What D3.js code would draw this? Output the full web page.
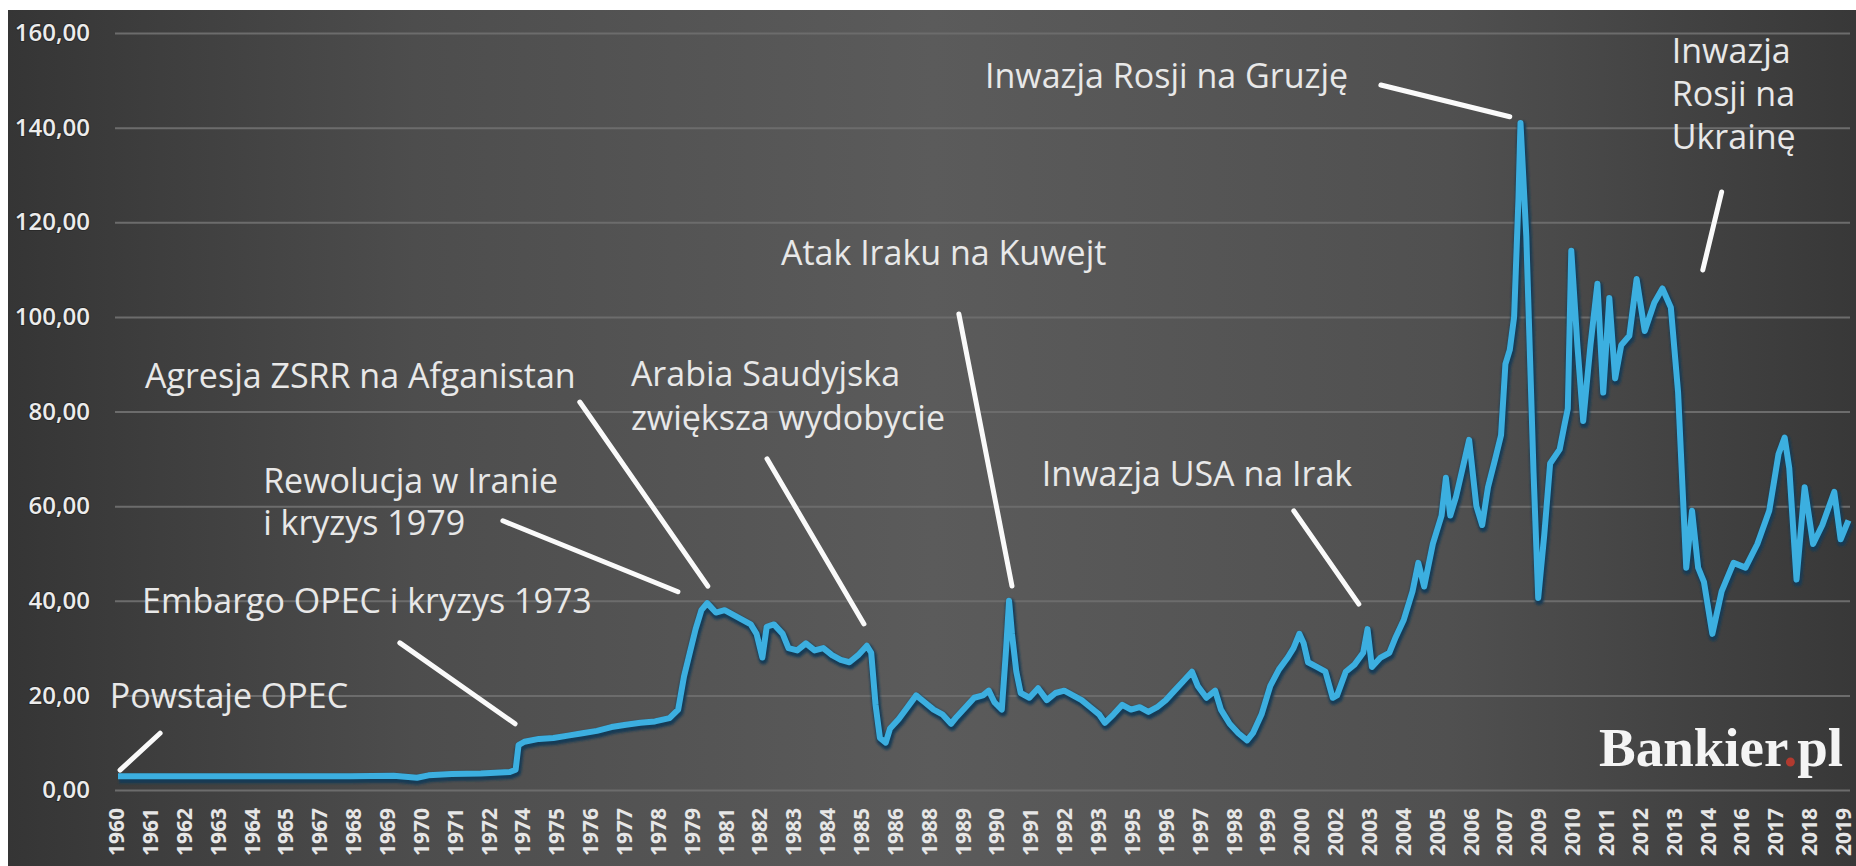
<!DOCTYPE html>
<html>
<head>
<meta charset="utf-8">
<script src="https://cdn.jsdelivr.net/npm/d3@7"></script>
<style>
  body { margin: 0; background: #fff; }
  svg { display: block; }
  text { font-family: "Open Sans", sans-serif; }
</style>
</head>
<body>
<svg id="chart" width="1856" height="866"></svg>
<script>
const WIDTH = 1856;
const HEIGHT = 866;
const PLOT = { left: 118, right: 1845, top: 33, bottom: 790, gridLeft: 115, gridRight: 1850 };

// y axis ticks
const yTicks = [0, 20, 40, 60, 80, 100, 120, 140, 160];

// x axis labels, one every 14 months starting Jan 1960
const xTickLabels = ["1960","1961","1962","1963","1964","1965","1967","1968","1969","1970","1971","1972",
  "1974","1975","1976","1977","1978","1979","1981","1982","1983","1984","1985","1986",
  "1988","1989","1990","1991","1992","1993","1995","1996","1997","1998","1999","2000",
  "2002","2003","2004","2005","2006","2007","2009","2010","2011","2012","2013","2014",
  "2016","2017","2018","2019"];
const LABEL_STEP_MONTHS = 14;

// oil price, USD per barrel
const dates = [1960.0, 1962, 1964, 1966, 1968, 1969.5, 1970.3, 1970.7, 1971.5, 1972.5, 1973.5, 1973.7, 1973.8,
  1974.0, 1974.5, 1975.0, 1975.5, 1976.0, 1976.5, 1977.0, 1977.5, 1978.0, 1978.5, 1979.0, 1979.3, 1979.5, 1979.7,
  1979.9, 1980.1, 1980.3, 1980.6, 1980.9, 1981.2, 1981.5, 1981.8, 1982.0, 1982.2, 1982.35, 1982.6, 1982.9, 1983.1,
  1983.4, 1983.7, 1984.0, 1984.3, 1984.6, 1984.9, 1985.2, 1985.5, 1985.8, 1985.95, 1986.1, 1986.25, 1986.45, 1986.6,
  1986.9, 1987.2, 1987.5, 1987.8, 1988.1, 1988.4, 1988.7, 1988.9, 1989.2, 1989.5, 1989.8, 1990.0, 1990.2, 1990.45,
  1990.6, 1990.7, 1990.8, 1990.95, 1991.1, 1991.4, 1991.7, 1992.0, 1992.3, 1992.6, 1992.9, 1993.2, 1993.5, 1993.8,
  1994.0, 1994.3, 1994.6, 1994.9, 1995.2, 1995.5, 1995.8, 1996.1, 1996.4, 1996.7, 1997.0, 1997.2, 1997.5, 1997.8,
  1998.0, 1998.3, 1998.6, 1998.9, 1999.1, 1999.4, 1999.7, 2000.0, 2000.3, 2000.5, 2000.7, 2000.85, 2001.0, 2001.3,
  2001.6, 2001.85, 2002.0, 2002.3, 2002.6, 2002.9, 2003.05, 2003.2, 2003.5, 2003.8, 2004.0, 2004.3, 2004.6, 2004.8,
  2005.0, 2005.3, 2005.6, 2005.75, 2005.9, 2006.1, 2006.4, 2006.55, 2006.8, 2007.0, 2007.2, 2007.45, 2007.65, 2007.8,
  2007.95, 2008.1, 2008.25, 2008.32, 2008.52, 2008.77, 2008.93, 2009.14, 2009.34, 2009.67, 2009.83, 2009.95,
  2010.07, 2010.28, 2010.48, 2010.73, 2010.97, 2011.17, 2011.38, 2011.58, 2011.79, 2012.07, 2012.32, 2012.6,
  2012.93, 2013.21, 2013.5, 2013.75, 2014.03, 2014.23, 2014.44, 2014.64, 2014.93, 2015.25, 2015.66, 2016.07,
  2016.48, 2016.89, 2017.21, 2017.42, 2017.58, 2017.83, 2018.11, 2018.4, 2018.72, 2019.13, 2019.35, 2019.62];
const prices = [2.9, 2.9, 2.9, 2.9, 2.9, 3.0, 2.6, 3.1, 3.4, 3.5, 3.8, 4.3, 9.5,
  10.2, 10.8, 11.0, 11.5, 12.0, 12.5, 13.3, 13.8, 14.2, 14.5, 15.2, 17, 24, 29,
  34, 38, 39.5, 37.5, 38, 37, 36, 35, 33, 28, 34.5, 35, 33, 30,
  29.5, 31, 29.5, 30, 28.5, 27.5, 27, 28.5, 30.5, 29, 18, 11, 10, 13,
  15, 17.5, 20, 18.5, 17, 16, 14, 15.5, 17.5, 19.5, 20, 21, 18.5, 17,
  30, 40, 33, 25, 20.5, 19.5, 21.5, 19, 20.5, 21, 20, 19, 17.5, 16,
  14.2, 16, 18, 17, 17.5, 16.5, 17.5, 19, 21, 23, 25, 22, 19.5, 21,
  17, 14, 12, 10.5, 12, 16, 22, 25.5, 28, 30, 33, 31, 27, 26,
  25, 19.5, 20, 25, 26.5, 29, 34, 26, 28, 29, 32, 36, 42, 48,
  43, 52, 58, 66, 58, 62, 70, 74, 60, 56, 64, 70, 75, 90,
  93, 100, 125, 141, 117, 67, 40.6, 54, 69, 72, 77, 80.6,
  114, 94, 78, 94, 107, 84, 104, 87, 94, 96, 108, 97,
  103, 106, 102, 84, 47, 59, 47, 44, 33, 42, 48, 47,
  52, 59, 71, 74.5, 68, 44.5, 64, 52, 56, 63, 53, 57];

// event captions and where their pointer lines go, in (year, price)
const eventTexts = [
  ["Powstaje OPEC"],
  ["Embargo OPEC i kryzys 1973"],
  ["Rewolucja w Iranie", "i kryzys 1979"],
  ["Agresja ZSRR na Afganistan"],
  ["Arabia Saudyjska", "zwiększa wydobycie"],
  ["Atak Iraku na Kuwejt"],
  ["Inwazja USA na Irak"],
  ["Inwazja Rosji na Gruzję"],
  ["Inwazja", "Rosji na", "Ukrainę"]
];
const eventTextAt = [[1959.72, 17.3], [1960.83, 37.4], [1965.0, 62.8], [1960.93, 85.0], [1977.67, 85.4],
  [1982.84, 111.0], [1991.83, 64.3], [1989.87, 148.4], [2013.53, 153.7]];
const eventLineFrom = [[1960.07, 4.2], [1969.71, 31.1], [1973.26, 56.9], [1975.91, 82.0], [1982.36, 70.0],
  [1988.97, 100.6], [2000.51, 59.0], [2003.51, 149.0], [2015.25, 126.4]];
const eventLineTo = [[1961.45, 12.0], [1973.68, 14.0], [1979.29, 41.9], [1980.32, 43.1], [1985.70, 35.1],
  [1990.80, 43.1], [2002.75, 39.3], [2007.95, 142.3], [2014.60, 109.9]];
const eventLineHeights = [0, 0, 42, 0, 44, 0, 0, 0, 43];

const svg = d3.select("#chart");
const defs = svg.append("defs");
const bg = defs.append("linearGradient").attr("id", "bg");
[["0%", "#353535"], ["22%", "#4d4d4d"], ["50%", "#5b5b5b"], ["78%", "#505050"], ["100%", "#383838"]]
  .forEach(s => bg.append("stop").attr("offset", s[0]).attr("stop-color", s[1]));
defs.append("filter").attr("id", "soft").append("feGaussianBlur").attr("stdDeviation", 1.2);

svg.append("rect").attr("width", WIDTH).attr("height", HEIGHT).attr("fill", "#fff");
svg.append("rect").attr("x", 8).attr("y", 10).attr("width", WIDTH - 8).attr("height", HEIGHT - 10).attr("fill", "url(#bg)");

const x = d3.scaleLinear().domain([1960, 2019.5]).range([PLOT.left, PLOT.right]);
const y = d3.scaleLinear().domain([0, 160]).range([PLOT.bottom, PLOT.top]);

// gridlines
svg.append("g")
  .attr("transform", `translate(${PLOT.gridLeft},0)`)
  .call(d3.axisLeft(y).tickValues(yTicks).tickSize(-(PLOT.gridRight - PLOT.gridLeft)).tickFormat(""))
  .call(g => g.select(".domain").remove())
  .call(g => g.selectAll("line").attr("stroke", "#6c6c6c").attr("stroke-width", 2));

const pl = d3.formatLocale({ decimal: ",", thousands: " ", grouping: [3], currency: ["", ""] });

svg.append("g")
  .attr("transform", `translate(${PLOT.gridLeft},0)`)
  .call(d3.axisLeft(y).tickValues(yTicks).tickSize(0).tickPadding(25).tickFormat(pl.format(".2f")))
  .call(g => g.select(".domain").remove())
  .call(g => g.selectAll("text")
    .attr("fill", "#ececec").attr("font-size", 24).attr("font-weight", 600)
    .attr("stroke", "#2a2a2a").attr("stroke-width", 2).attr("paint-order", "stroke")
    .style("font-family", "'Open Sans', sans-serif"));

const tickDates = xTickLabels.map((d, i) => 1960 + i * LABEL_STEP_MONTHS / 12);
svg.append("g")
  .attr("transform", `translate(0,${PLOT.bottom})`)
  .call(d3.axisBottom(x).tickValues(tickDates).tickSize(0).tickFormat((d, i) => xTickLabels[i]))
  .call(g => g.select(".domain").remove())
  .call(g => g.selectAll("text")
    .attr("transform", "rotate(-90)").attr("text-anchor", "end")
    .attr("x", -18).attr("y", -2).attr("dy", "0.36em")
    .attr("fill", "#e6e6e6").attr("font-size", 21).attr("font-weight", 700)
    .style("font-family", "'Open Sans', sans-serif"));

// price line
const series = dates.map((d, i) => ({ date: d, price: prices[i] }));
const line = d3.line().x(d => x(d.date)).y(d => y(d.price));

svg.append("path").datum(series)
  .attr("d", line).attr("fill", "none")
  .attr("stroke", "#163a55").attr("stroke-width", 9).attr("stroke-linejoin", "round")
  .attr("transform", "translate(1,2.5)").attr("filter", "url(#soft)");
svg.append("path").datum(series)
  .attr("d", line).attr("fill", "none")
  .attr("stroke", "#3cafe0").attr("stroke-width", 6).attr("stroke-linejoin", "round");

// annotations
const notes = svg.append("g");
eventTexts.forEach((lines, i) => {
  notes.append("line")
    .attr("x1", x(eventLineFrom[i][0])).attr("y1", y(eventLineFrom[i][1]))
    .attr("x2", x(eventLineTo[i][0])).attr("y2", y(eventLineTo[i][1]))
    .attr("stroke", "#fafafa").attr("stroke-width", 5).attr("stroke-linecap", "round");
  const t = notes.append("text")
    .attr("x", x(eventTextAt[i][0])).attr("y", y(eventTextAt[i][1]))
    .attr("fill", "#e8e8e8").attr("font-size", 34);
  lines.forEach((s, j) => t.append("tspan")
    .attr("x", x(eventTextAt[i][0])).attr("dy", j === 0 ? 0 : eventLineHeights[i]).text(s));
});

// logo
const logo = svg.append("text")
  .attr("x", 1843).attr("y", 766).attr("text-anchor", "end")
  .attr("font-size", 55).attr("font-weight", 700)
  .style("font-family", "'Liberation Serif', 'DejaVu Serif', serif")
  .attr("fill", "#f4f4f4");
logo.append("tspan").text("Bankier");
logo.append("tspan").attr("fill", "#b23a2f").text(".");
logo.append("tspan").text("pl");
</script>
</body>
</html>
